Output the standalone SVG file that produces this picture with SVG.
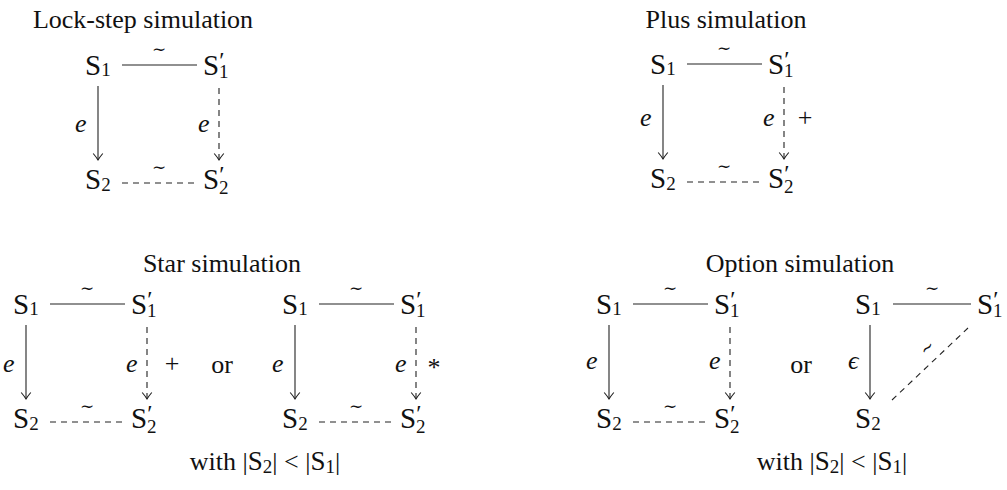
<svg xmlns="http://www.w3.org/2000/svg" width="1007" height="490" viewBox="0 0 1007 490">
<defs>
<style>
text{font-family:"Liberation Serif","DejaVu Serif",serif;fill:#111}
.title{font-size:26px;text-anchor:middle}
.S{font-size:29px}
.sub{font-size:19px}
.pr{font-size:24px}
.lbl{font-size:26px;font-style:italic}
.tl{font-family:"DejaVu Serif",serif;font-size:17px;text-anchor:middle}
.op{font-size:26px}
.ln{stroke:#222;stroke-width:1.1;fill:none}
.ds{stroke-dasharray:6 5}
.ar{marker-end:url(#to)}
</style>
<marker id="to" markerUnits="userSpaceOnUse" viewBox="-8 -6 10 12" markerWidth="10" markerHeight="12" refX="0" refY="0" orient="auto" overflow="visible">
<path d="M -6.5 -4.8 C -3 -1.8 -1 -0.6 0 0 C -1 0.6 -3 1.8 -6.5 4.8" fill="none" stroke="#222" stroke-width="1.1"/>
</marker>
</defs>
<rect width="1007" height="490" fill="#fff"/>

<!-- titles -->
<g id="title-lockstep"><text class="title" x="143" y="28">Lock-step simulation</text></g>
<g id="title-plus"><text class="title" x="726" y="28">Plus simulation</text></g>
<g id="title-star"><text class="title" x="222" y="272">Star simulation</text></g>
<g id="title-option"><text class="title" x="800" y="272">Option simulation</text></g>
<g id="cond-star"><text class="op" x="265" y="470" text-anchor="middle">with |<tspan font-size="27">S</tspan><tspan class="sub" dy="3">2</tspan><tspan dy="-3">| &lt; |</tspan><tspan font-size="27">S</tspan><tspan class="sub" dy="3">1</tspan><tspan dy="-3">|</tspan></text></g>
<g id="cond-option"><text class="op" x="832" y="470" text-anchor="middle">with |<tspan font-size="27">S</tspan><tspan class="sub" dy="3">2</tspan><tspan dy="-3">| &lt; |</tspan><tspan font-size="27">S</tspan><tspan class="sub" dy="3">1</tspan><tspan dy="-3">|</tspan></text></g>
<g id="or-star"><text class="op" x="222" y="373" text-anchor="middle">or</text></g>
<g id="or-option"><text class="op" x="801" y="373" text-anchor="middle">or</text></g>

<!-- Lock-step nodes -->
<g transform="translate(85,75)">
<g id="ls-S1"><text class="S" x="0" y="0">S<tspan class="sub" dy="1">1</tspan></text></g>
<g id="ls-S1p"><text class="S" x="118" y="0">S<tspan class="pr" y="-7">′</tspan><tspan class="sub" x="134" y="3">1</tspan></text></g>
<g id="ls-S2"><text class="S" x="0" y="114">S<tspan class="sub" dy="2">2</tspan></text></g>
<g id="ls-S2p"><text class="S" x="118" y="114">S<tspan class="pr" y="107">′</tspan><tspan class="sub" x="134" y="119">2</tspan></text></g>
</g>
<!-- Plus nodes -->
<g transform="translate(650,74)">
<g id="pl-S1"><text class="S" x="0" y="0">S<tspan class="sub" dy="1">1</tspan></text></g>
<g id="pl-S1p"><text class="S" x="118" y="0">S<tspan class="pr" y="-7">′</tspan><tspan class="sub" x="134" y="3">1</tspan></text></g>
<g id="pl-S2"><text class="S" x="0" y="114">S<tspan class="sub" dy="2">2</tspan></text></g>
<g id="pl-S2p"><text class="S" x="118" y="114">S<tspan class="pr" y="107">′</tspan><tspan class="sub" x="134" y="119">2</tspan></text></g>
</g>
<!-- Star left nodes -->
<g transform="translate(13,314)">
<g id="sa-S1"><text class="S" x="0" y="0">S<tspan class="sub" dy="1">1</tspan></text></g>
<g id="sa-S1p"><text class="S" x="118" y="0">S<tspan class="pr" y="-7">′</tspan><tspan class="sub" x="134" y="3">1</tspan></text></g>
<g id="sa-S2"><text class="S" x="0" y="114">S<tspan class="sub" dy="2">2</tspan></text></g>
<g id="sa-S2p"><text class="S" x="118" y="114">S<tspan class="pr" y="107">′</tspan><tspan class="sub" x="134" y="119">2</tspan></text></g>
</g>
<!-- Star right nodes -->
<g transform="translate(282,314)">
<g id="sb-S1"><text class="S" x="0" y="0">S<tspan class="sub" dy="1">1</tspan></text></g>
<g id="sb-S1p"><text class="S" x="118" y="0">S<tspan class="pr" y="-7">′</tspan><tspan class="sub" x="134" y="3">1</tspan></text></g>
<g id="sb-S2"><text class="S" x="0" y="114">S<tspan class="sub" dy="2">2</tspan></text></g>
<g id="sb-S2p"><text class="S" x="118" y="114">S<tspan class="pr" y="107">′</tspan><tspan class="sub" x="134" y="119">2</tspan></text></g>
</g>
<!-- Option left nodes -->
<g transform="translate(596,314)">
<g id="oa-S1"><text class="S" x="0" y="0">S<tspan class="sub" dy="1">1</tspan></text></g>
<g id="oa-S1p"><text class="S" x="118" y="0">S<tspan class="pr" y="-7">′</tspan><tspan class="sub" x="134" y="3">1</tspan></text></g>
<g id="oa-S2"><text class="S" x="0" y="114">S<tspan class="sub" dy="2">2</tspan></text></g>
<g id="oa-S2p"><text class="S" x="118" y="114">S<tspan class="pr" y="107">′</tspan><tspan class="sub" x="134" y="119">2</tspan></text></g>
</g>
<!-- Option right nodes -->
<g transform="translate(855,314)">
<g id="ob-S1"><text class="S" x="0" y="0">S<tspan class="sub" dy="1">1</tspan></text></g>
<g id="ob-S1p"><text class="S" x="122" y="0">S<tspan class="pr" y="-7">′</tspan><tspan class="sub" x="138" y="3">1</tspan></text></g>
<g id="ob-S2"><text class="S" x="0" y="114">S<tspan class="sub" dy="2">2</tspan></text></g>
</g>

<!-- connectors -->
<g id="connectors">
<g transform="translate(85,75)">
<line class="ln" x1="37" y1="-10" x2="112" y2="-10"/><text class="tl" x="74" y="-20">∼</text>
<line class="ln ar" x1="13" y1="11" x2="13" y2="85"/><text class="lbl" x="-10" y="57">e</text>
<line class="ln ds ar" x1="134" y1="13" x2="134" y2="85"/><text class="lbl" x="113" y="57">e</text>
<line class="ln ds" x1="37" y1="108" x2="110" y2="108"/><text class="tl" x="74" y="98">∼</text>
</g>
<g transform="translate(650,74)">
<line class="ln" x1="37" y1="-10" x2="112" y2="-10"/><text class="tl" x="74" y="-20">∼</text>
<line class="ln ar" x1="13" y1="11" x2="13" y2="85"/><text class="lbl" x="-10" y="52">e</text>
<line class="ln ds ar" x1="134" y1="13" x2="134" y2="85"/><text class="lbl" x="113" y="52">e</text><text class="op" x="155" y="52" text-anchor="middle">+</text>
<line class="ln ds" x1="37" y1="108" x2="110" y2="108"/><text class="tl" x="74" y="98">∼</text>
</g>
<g transform="translate(13,314)">
<line class="ln" x1="37" y1="-10" x2="112" y2="-10"/><text class="tl" x="74" y="-20">∼</text>
<line class="ln ar" x1="13" y1="11" x2="13" y2="85"/><text class="lbl" x="-10" y="58">e</text>
<line class="ln ds ar" x1="134" y1="13" x2="134" y2="85"/><text class="lbl" x="113" y="58">e</text><text class="op" x="159" y="58" text-anchor="middle">+</text>
<line class="ln ds" x1="37" y1="108" x2="110" y2="108"/><text class="tl" x="74" y="98">∼</text>
</g>
<g transform="translate(282,314)">
<line class="ln" x1="37" y1="-10" x2="112" y2="-10"/><text class="tl" x="74" y="-20">∼</text>
<line class="ln ar" x1="13" y1="11" x2="13" y2="85"/><text class="lbl" x="-10" y="58">e</text>
<line class="ln ds ar" x1="134" y1="13" x2="134" y2="85"/><text class="lbl" x="113" y="58">e</text><text class="op" x="152" y="62" text-anchor="middle">*</text>
<line class="ln ds" x1="37" y1="108" x2="110" y2="108"/><text class="tl" x="74" y="98">∼</text>
</g>
<g transform="translate(596,314)">
<line class="ln" x1="37" y1="-10" x2="112" y2="-10"/><text class="tl" x="74" y="-20">∼</text>
<line class="ln ar" x1="13" y1="11" x2="13" y2="85"/><text class="lbl" x="-10" y="55">e</text>
<line class="ln ds ar" x1="134" y1="13" x2="134" y2="85"/><text class="lbl" x="113" y="55">e</text>
<line class="ln ds" x1="37" y1="108" x2="110" y2="108"/><text class="tl" x="74" y="98">∼</text>
</g>
<g transform="translate(855,314)">
<line class="ln" x1="38" y1="-10" x2="116" y2="-10"/><text class="tl" x="77" y="-20">∼</text>
<line class="ln ar" x1="15" y1="11" x2="15" y2="85"/><text class="lbl" x="-7" y="55">ϵ</text>
<line class="ln ds" x1="37" y1="86" x2="113" y2="14"/><text class="tl" transform="translate(76,38) rotate(-43)" x="0" y="0">∼</text>
</g>
</g>
</svg>
